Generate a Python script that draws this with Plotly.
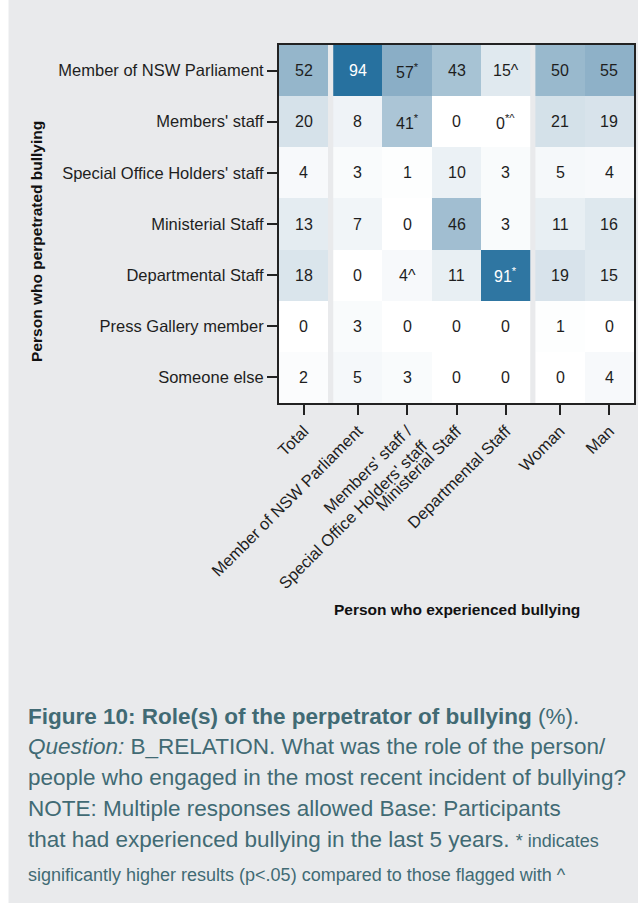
import plotly.graph_objects as go

# rows (perpetrator) and column groups (experienced)
rows = ["Member of NSW Parliament", "Members' staff", "Special Office Holders' staff",
        "Ministerial Staff", "Departmental Staff", "Press Gallery member", "Someone else"]

col_labels = ["Total", "Member of NSW Parliament",
              "Members' staff /<br>Special Office Holders' staff",
              "Ministerial Staff", "Departmental Staff", "Woman", "Man"]

# percentage values, one list per column
total = [52, 20, 4, 13, 18, 0, 2]
member_nsw = [94, 8, 3, 7, 0, 3, 5]
members_staff = [57, 41, 1, 0, 4, 0, 3]
ministerial = [43, 0, 10, 46, 11, 0, 0]
departmental = [15, 0, 3, 3, 91, 0, 0]
woman = [50, 21, 5, 11, 19, 1, 0]
man = [55, 19, 4, 16, 15, 0, 4]

# significance flags shown after the number
flags_members_staff = ["<sup>*</sup>", "<sup>*</sup>", "", "", "^", "", ""]
flags_departmental = ["^", "<sup>*^</sup>", "", "", "<sup>*</sup>", "", ""]

columns = [total, member_nsw, members_staff, ministerial, departmental, woman, man]
flags = [[""] * 7, [""] * 7, flags_members_staff, [""] * 7, flags_departmental, [""] * 7, [""] * 7]

# column groups: Total | roles | gender, with a small gap between groups
groups = [[0], [1, 2, 3, 4], [5, 6]]
gap = 0.1

scale = [[0.0, "#ffffff"], [20/94, "#d6e2ea"], [50/94, "#99b9cd"],
         [57/94, "#8aaec6"], [1.0, "#27719f"]]

BG = "#e9eaec"
FONT = "Liberation Sans, Arial, sans-serif"
fig = go.Figure()

centers = []
start = -0.5
for g in groups:
    bounds = [start + i for i in range(len(g) + 1)]
    centers += [start + i + 0.5 for i in range(len(g))]
    z = [[columns[c][r] for c in g] for r in range(len(rows))]
    fig.add_trace(go.Heatmap(z=z, x=bounds, y=rows, colorscale=scale, zmin=0, zmax=94,
                             showscale=False, hoverinfo="skip"))
    start = bounds[-1] + gap

annotations = []
for c, col in enumerate(columns):
    for r, v in enumerate(col):
        annotations.append(dict(x=centers[c], y=rows[r], xref="x", yref="y",
                                text=f"{v}{flags[c][r]}", showarrow=False,
                                font=dict(size=16, color="white" if v > 80 else "#1e1e1e")))

# layout in pixels
W, H = 638, 911
ml, mr, mt, mb = 279, 2, 45, 508
pw, ph = W - ml - mr, H - mt - mb

def px(x):
    return (x - ml) / pw

def py(y):
    return (H - mb - y) / ph

annotations.append(dict(x=px(24), y=py(241), xref="paper", yref="paper", textangle=-90,
                        text="<b>Person who perpetrated bullying</b>", showarrow=False,
                        font=dict(size=15.5, color="#111")))
annotations.append(dict(x=px(458), y=py(620), xref="paper", yref="paper",
                        text="<b>Person who experienced bullying</b>", showarrow=False,
                        font=dict(size=15.5, color="#111")))

cap = "#416a74"
caption = [
    (716, "<b>Figure 10: Role(s) of the perpetrator of bullying</b> (%)."),
    (746, "<i>Question:</i> B_RELATION. What was the role of the person/"),
    (777, "people who engaged in the most recent incident of bullying?"),
    (808, "NOTE: Multiple responses allowed Base: Participants"),
    (839, "that had experienced bullying in the last 5 years. <span style='font-size:18px'>* indicates</span>"),
    (875, "<span style='font-size:18px'>significantly higher results (p&lt;.05) compared to those flagged with ^</span>"),
]
for y, t in caption:
    annotations.append(dict(x=px(25), y=py(y), xref="paper", yref="paper", xanchor="left",
                            yanchor="middle", text=t, showarrow=False, align="left",
                            font=dict(size=22.5, color=cap)))

fig.update_layout(
    width=W, height=H,
    margin=dict(l=ml, r=mr, t=mt, b=mb),
    paper_bgcolor="white", plot_bgcolor=BG,
    font=dict(family=FONT, color="#1e1e1e"),
    annotations=annotations,
    shapes=[dict(type="rect", xref="paper", yref="paper", x0=px(7), x1=px(W + 5),
                 y0=py(903), y1=py(-5), fillcolor=BG, line_width=0, layer="below")],
    xaxis=dict(range=[-0.5, start - gap], tickvals=centers, ticktext=col_labels,
               tickangle=-45, ticks="outside", ticklen=10, tickwidth=1.5, tickcolor="#222",
               showline=True, linecolor="#222", linewidth=2, mirror=True,
               showgrid=False, zeroline=False, tickfont=dict(size=16.5, color="#1e1e1e")),
    yaxis=dict(autorange="reversed", ticks="outside", ticklen=10, tickwidth=1.5,
               tickcolor="#222", showline=True, linecolor="#222", linewidth=2, mirror=True,
               showgrid=False, zeroline=False, tickfont=dict(size=16.5, color="#1e1e1e")),
)

# page body has a default margin; drop it so the figure sits at the window origin
fig.write_html("out.html", config={"displayModeBar": False},
               post_script="document.body.style.margin='0';document.body.style.overflow='hidden';")
